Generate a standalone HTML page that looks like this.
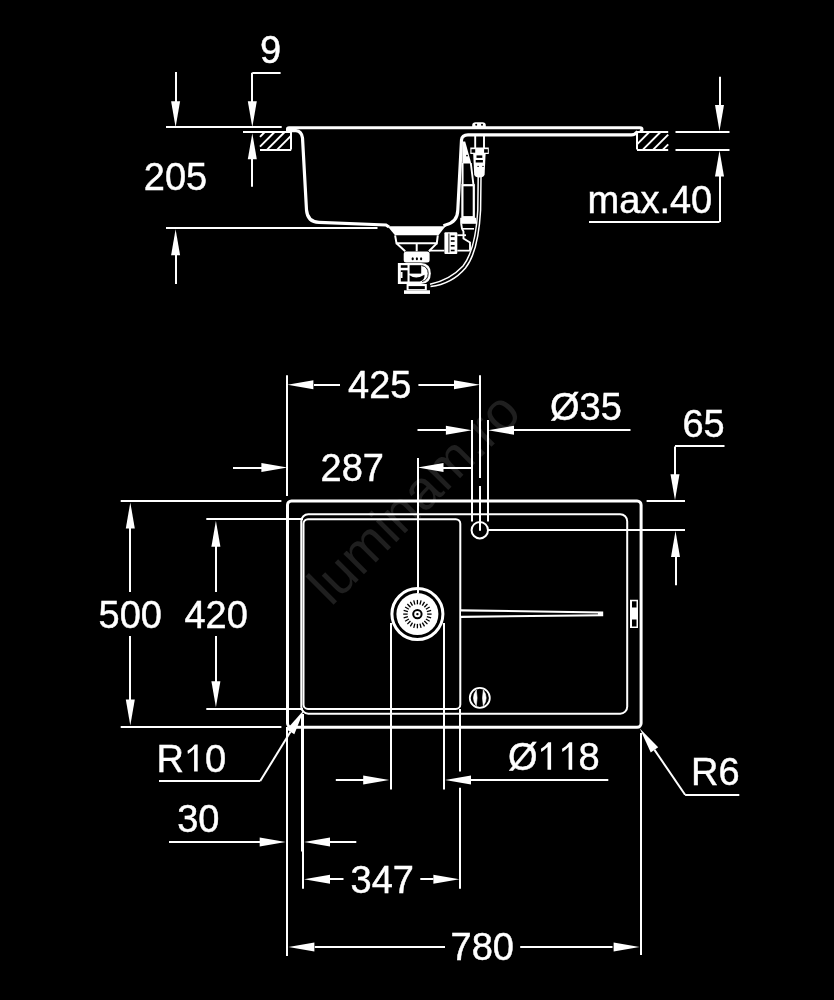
<!DOCTYPE html>
<html><head><meta charset="utf-8"><style>
html,body{margin:0;padding:0;background:#000;width:834px;height:1000px;overflow:hidden}
svg{display:block}
text{font-family:"Liberation Sans",sans-serif;fill:#fff;stroke:#fff;stroke-width:0.45px}
svg{filter:grayscale(1)}
</style></head><body>
<svg width="834" height="1000" viewBox="0 0 834 1000">
<rect width="834" height="1000" fill="#000"/>
<text x="0" y="0" font-size="55" style="fill:#1f1f1f;stroke:none" transform="translate(331,607.3) rotate(-45)">luminam.ro</text>
<line x1="166" y1="127" x2="281.7" y2="127" stroke="#fff" stroke-width="2"/>
<line x1="166" y1="228" x2="377.5" y2="228" stroke="#fff" stroke-width="2"/>
<line x1="176" y1="72" x2="176" y2="110" stroke="#fff" stroke-width="2"/>
<polygon points="175.6,127.3 171.1,101.3 180.1,101.3" fill="#fff"/>
<line x1="176" y1="245" x2="176" y2="284" stroke="#fff" stroke-width="2"/>
<polygon points="175.6,229.2 171.1,255.2 180.1,255.2" fill="#fff"/>
<text x="143.8" y="189.9" font-size="38" text-anchor="start">205</text>
<line x1="252.3" y1="73" x2="280.6" y2="73" stroke="#fff" stroke-width="2"/>
<line x1="252" y1="72.7" x2="252" y2="110" stroke="#fff" stroke-width="2"/>
<polygon points="252.3,127.3 247.8,101.3 256.8,101.3" fill="#fff"/>
<line x1="243" y1="132" x2="291.5" y2="132" stroke="#fff" stroke-width="2"/>
<line x1="252" y1="150" x2="252" y2="186.8" stroke="#fff" stroke-width="2"/>
<polygon points="252.3,133.3 247.8,159.3 256.8,159.3" fill="#fff"/>
<text x="260" y="62.9" font-size="38" text-anchor="start">9</text>
<line x1="260" y1="132" x2="291.2" y2="132" stroke="#fff" stroke-width="2"/>
<line x1="260" y1="150" x2="291.2" y2="150" stroke="#fff" stroke-width="2"/>
<line x1="291" y1="132" x2="291" y2="149.6" stroke="#fff" stroke-width="2"/>
<line x1="260" y1="136.8" x2="264.8" y2="132.0" stroke="#fff" stroke-width="1.9"/>
<line x1="260" y1="146.6" x2="274.6" y2="132.0" stroke="#fff" stroke-width="1.9"/>
<line x1="267.1" y1="149.6" x2="284.7" y2="132.0" stroke="#fff" stroke-width="1.9"/>
<line x1="277.2" y1="149.6" x2="291.2" y2="135.6" stroke="#fff" stroke-width="1.9"/>
<line x1="637" y1="132" x2="668.2" y2="132" stroke="#fff" stroke-width="2"/>
<line x1="637" y1="150" x2="668.2" y2="150" stroke="#fff" stroke-width="2"/>
<line x1="637" y1="132" x2="637" y2="149.6" stroke="#fff" stroke-width="2"/>
<line x1="637" y1="144.3" x2="649.3" y2="132.0" stroke="#fff" stroke-width="1.9"/>
<line x1="642.9" y1="149.6" x2="660.5" y2="132.0" stroke="#fff" stroke-width="1.9"/>
<line x1="653.2" y1="149.6" x2="668.2" y2="134.6" stroke="#fff" stroke-width="1.9"/>
<line x1="662.9" y1="149.6" x2="668.2" y2="144.3" stroke="#fff" stroke-width="1.9"/>
<line x1="675.5" y1="132" x2="729.5" y2="132" stroke="#fff" stroke-width="2"/>
<line x1="675.5" y1="150" x2="729.5" y2="150" stroke="#fff" stroke-width="2"/>
<line x1="720" y1="76.8" x2="720" y2="110" stroke="#fff" stroke-width="2"/>
<polygon points="719.5,131 715.0,105 724.0,105" fill="#fff"/>
<line x1="720" y1="160" x2="720" y2="222" stroke="#fff" stroke-width="2"/>
<polygon points="719.5,150.6 715.0,176.6 724.0,176.6" fill="#fff"/>
<line x1="589" y1="222" x2="719.5" y2="222" stroke="#fff" stroke-width="2"/>
<text x="587.6" y="212.9" font-size="38" text-anchor="start">max.40</text>
<path d="M287.5,131.5 L287.5,129 Q287.5,127.8 289,127.8 L640,127.8 Q642,127.8 642,129.5 Q642,131 640,131.5" fill="none" stroke="#fff" stroke-width="3" />
<path d="M288.5,130.6 L296,130.6 Q301.5,131 302.5,138 L306.5,210 Q307.5,222 319,222.3 L386,225 L389,227" fill="none" stroke="#fff" stroke-width="3.2" />
<path d="M443.5,226 L445.5,225 Q457.6,222 457.8,210 L461.5,140 Q462,134.8 468,134.8 L631.2,134.8 Q635,134.8 637.7,131.5" fill="none" stroke="#fff" stroke-width="3.2" />
<path d="M472.2,127 L472.2,125 Q472.5,122.3 475.5,122.3 L482.5,122.3 Q485.6,122.3 485.8,125 L485.8,127 Z" fill="#fff"/>
<circle cx="476.2" cy="124.8" r="1" fill="#000"/><circle cx="482" cy="124.8" r="1" fill="#000"/>
<path d="M475.2,136 L475.2,148 M484,136 L484,148" fill="none" stroke="#fff" stroke-width="1.9" />
<rect x="470.3" y="147.5" width="18.5" height="6.5" fill="#fff"/>
<rect x="471.5" y="149.2" width="3.7" height="3.5" fill="#000"/><rect x="484.1" y="149.2" width="3.7" height="3.5" fill="#000"/>
<path d="M473.2,154 L485.6,154 L484.6,174.5 Q484,177.4 479.4,177.4 Q474.8,177.4 474.2,174.5 Z" fill="#fff"/>
<rect x="476.5" y="155.4" width="5.8" height="2.5" fill="#000"/><rect x="475.7" y="160" width="7.2" height="2.5" fill="#000"/>
<circle cx="478.1" cy="166.4" r="0.7" fill="#000"/><circle cx="483" cy="166.4" r="0.7" fill="#000"/>
<polygon points="462.3,141.5 465.2,141.5 471.3,163.5 462.3,163.5" fill="#fff"/>
<circle cx="467" cy="155.6" r="0.9" fill="#000"/>
<path d="M462.6,163 L462.6,184.4 M470.8,163 L473.4,184.4" fill="none" stroke="#fff" stroke-width="1.9" />
<rect x="462.4" y="185.2" width="11.4" height="32" fill="none" stroke="#fff" stroke-width="2.2"/>
<rect x="460.2" y="217.8" width="15.8" height="6" fill="#fff"/>
<path d="M461.2,223.5 L462,228.8 L463.5,231.5 L463.5,238.5 L470,242.5 L470,250.5" fill="none" stroke="#fff" stroke-width="1.9" />
<path d="M462,228.8 L474,228.8" fill="none" stroke="#fff" stroke-width="1.6" />
<path d="M478.2,177 L477.8,210 Q475.5,250 463,266 Q450,280 430,284.2" fill="none" stroke="#fff" stroke-width="1.5" />
<path d="M481,177 L480.6,210 Q478.3,252 465.5,268 Q452,284 430.5,286.5" fill="none" stroke="#fff" stroke-width="1.5" />
<rect x="444.4" y="232.3" width="12.9" height="21.6" rx="1" fill="#fff"/>
<path d="M448.9,233.5 L448.9,252.5" fill="none" stroke="#000" stroke-width="0.9" />
<rect x="450.8" y="235.5" width="3.8" height="1.6" fill="#000"/>
<rect x="450.8" y="240.2" width="3.8" height="1.6" fill="#000"/>
<rect x="450.8" y="245" width="3.8" height="1.6" fill="#000"/>
<rect x="450.8" y="249.7" width="3.8" height="1.6" fill="#000"/>
<path d="M457.3,235.2 L466,235.2" fill="none" stroke="#fff" stroke-width="1.8" />
<path d="M429,250.6 L444.4,250.6 M457.3,250.6 L470,250.6" fill="none" stroke="#fff" stroke-width="1.8" />
<polygon points="387.5,226.3 445.5,226.3 438.5,235.3 395,235.3" fill="#fff"/>
<path d="M395.1,235.3 L396.5,243.2 L436.8,243.2 L437.8,235.3" fill="none" stroke="#fff" stroke-width="2" />
<path d="M396.5,243.2 L405.2,251.2 M436.8,243.4 L428.9,251.2 M416.7,243.2 L416.7,251.2" fill="none" stroke="#fff" stroke-width="2" />
<rect x="403.7" y="251.5" width="25.9" height="10.9" rx="2.5" fill="#fff"/>
<ellipse cx="412.7" cy="258.8" rx="1.1" ry="1.5" fill="#000"/>
<ellipse cx="416.9" cy="258.8" rx="1.1" ry="1.5" fill="#000"/>
<ellipse cx="421.1" cy="258.8" rx="1.1" ry="1.5" fill="#000"/>
<path d="M397.9,263 L421,263 Q430.8,263.5 430.8,273.4 Q430.8,283.6 421,284 L397.9,284 Z" fill="#fff"/>
<rect x="400.8" y="265.2" width="6.7" height="2.6" fill="#000"/>
<rect x="400.8" y="270.3" width="6.7" height="11.2" fill="#000"/>
<rect x="400.6" y="272" width="1.9" height="6" fill="#fff"/>
<rect x="409.6" y="265.2" width="11.6" height="8.4" fill="#000"/>
<path d="M409.6,275.2 Q416,280 424.5,274.8 Q425,279.8 420,281.6 L409.6,281.6 Z" fill="#000"/>
<path d="M421.5,265.5 Q428,266.5 428.2,273.4 Q428,280.5 422,281.5" fill="none" stroke="#000" stroke-width="0.9"/>
<rect x="406.6" y="284" width="20.2" height="6.3" fill="#fff"/>
<rect x="408.6" y="286.1" width="16.2" height="3" fill="#000"/>
<rect x="404" y="290.3" width="26" height="3.6" fill="#fff"/>
<rect x="287.5" y="501" width="353.6" height="226.3" rx="4" fill="none" stroke="#fff" stroke-width="3"/>
<rect x="301.3" y="514.2" width="325.9" height="199.5" rx="7" fill="none" stroke="#fff" stroke-width="2"/>
<rect x="303.5" y="519.2" width="156.8" height="189.7" rx="4.5" fill="none" stroke="#fff" stroke-width="2"/>
<circle cx="417.4" cy="614.1" r="25.5" fill="none" stroke="#fff" stroke-width="3"/>
<circle cx="417.4" cy="614.1" r="21" fill="#fff"/>
<line x1="427.2" y1="614.1" x2="431.6" y2="614.1" stroke="#000" stroke-width="1.3"/>
<line x1="426.87" y1="616.64" x2="431.12" y2="617.78" stroke="#000" stroke-width="1.3"/>
<line x1="425.89" y1="619.0" x2="429.7" y2="621.2" stroke="#000" stroke-width="1.3"/>
<line x1="424.33" y1="621.03" x2="427.44" y2="624.14" stroke="#000" stroke-width="1.3"/>
<line x1="422.3" y1="622.59" x2="424.5" y2="626.4" stroke="#000" stroke-width="1.3"/>
<line x1="419.94" y1="623.57" x2="421.08" y2="627.82" stroke="#000" stroke-width="1.3"/>
<line x1="417.4" y1="623.9" x2="417.4" y2="628.3" stroke="#000" stroke-width="1.3"/>
<line x1="414.86" y1="623.57" x2="413.72" y2="627.82" stroke="#000" stroke-width="1.3"/>
<line x1="412.5" y1="622.59" x2="410.3" y2="626.4" stroke="#000" stroke-width="1.3"/>
<line x1="410.47" y1="621.03" x2="407.36" y2="624.14" stroke="#000" stroke-width="1.3"/>
<line x1="408.91" y1="619.0" x2="405.1" y2="621.2" stroke="#000" stroke-width="1.3"/>
<line x1="407.93" y1="616.64" x2="403.68" y2="617.78" stroke="#000" stroke-width="1.3"/>
<line x1="407.6" y1="614.1" x2="403.2" y2="614.1" stroke="#000" stroke-width="1.3"/>
<line x1="407.93" y1="611.56" x2="403.68" y2="610.42" stroke="#000" stroke-width="1.3"/>
<line x1="408.91" y1="609.2" x2="405.1" y2="607.0" stroke="#000" stroke-width="1.3"/>
<line x1="410.47" y1="607.17" x2="407.36" y2="604.06" stroke="#000" stroke-width="1.3"/>
<line x1="412.5" y1="605.61" x2="410.3" y2="601.8" stroke="#000" stroke-width="1.3"/>
<line x1="414.86" y1="604.63" x2="413.72" y2="600.38" stroke="#000" stroke-width="1.3"/>
<line x1="417.4" y1="604.3" x2="417.4" y2="599.9" stroke="#000" stroke-width="1.3"/>
<line x1="419.94" y1="604.63" x2="421.08" y2="600.38" stroke="#000" stroke-width="1.3"/>
<line x1="422.3" y1="605.61" x2="424.5" y2="601.8" stroke="#000" stroke-width="1.3"/>
<line x1="424.33" y1="607.17" x2="427.44" y2="604.06" stroke="#000" stroke-width="1.3"/>
<line x1="425.89" y1="609.2" x2="429.7" y2="607.0" stroke="#000" stroke-width="1.3"/>
<line x1="426.87" y1="611.56" x2="431.12" y2="610.42" stroke="#000" stroke-width="1.3"/>
<circle cx="417.4" cy="614.1" r="4.2" fill="none" stroke="#000" stroke-width="2"/>
<circle cx="417.4" cy="614.1" r="1.2" fill="#000"/>
<polygon points="461,609.3 603.2,611.4 603.2,616.3 461,617.9" fill="#fff"/>
<polygon points="461,611.4 598,613.4 598,614.2 461,615.8" fill="#000"/>
<rect x="630" y="599.75" width="8" height="28.25" fill="#fff"/>
<rect x="632" y="601.3" width="4.5" height="6.2" fill="#000"/><rect x="632" y="619.5" width="4.5" height="7" fill="#000"/>
<circle cx="479.8" cy="530.2" r="8.2" fill="none" stroke="#fff" stroke-width="2"/>
<circle cx="479.8" cy="697.9" r="10" fill="none" stroke="#fff" stroke-width="1.8"/>
<path d="M476.3,690 Q470.6,697.9 476.3,705.8 Q477.9,697.9 476.3,690 Z M483.3,690 Q489,697.9 483.3,705.8 Q481.7,697.9 483.3,690 Z" fill="#fff" stroke="#fff" stroke-width="0.6"/>
<line x1="287" y1="375.2" x2="287" y2="496" stroke="#fff" stroke-width="2"/>
<line x1="480" y1="375.2" x2="480" y2="478" stroke="#fff" stroke-width="2"/>
<line x1="480" y1="486" x2="480" y2="530.7" stroke="#fff" stroke-width="2"/>
<line x1="314" y1="385" x2="340" y2="385" stroke="#fff" stroke-width="2"/>
<polygon points="287.4,384.8 313.4,380.3 313.4,389.3" fill="#fff"/>
<line x1="418.4" y1="385" x2="454" y2="385" stroke="#fff" stroke-width="2"/>
<polygon points="480,384.8 454,380.3 454,389.3" fill="#fff"/>
<text x="348" y="398.1" font-size="38" text-anchor="start">425</text>
<line x1="472" y1="420" x2="472" y2="521.6" stroke="#fff" stroke-width="2"/>
<line x1="488" y1="420" x2="488" y2="521.6" stroke="#fff" stroke-width="2"/>
<line x1="417.5" y1="430" x2="446" y2="430" stroke="#fff" stroke-width="2"/>
<polygon points="471.9,430.3 445.9,425.8 445.9,434.8" fill="#fff"/>
<line x1="514" y1="430" x2="630.5" y2="430" stroke="#fff" stroke-width="2"/>
<polygon points="488,430.3 514,425.8 514,434.8" fill="#fff"/>
<text x="550" y="419.5" font-size="38" text-anchor="start">Ø35</text>
<line x1="233" y1="468" x2="262" y2="468" stroke="#fff" stroke-width="2"/>
<polygon points="287.4,467.6 261.4,463.1 261.4,472.1" fill="#fff"/>
<line x1="418" y1="458" x2="418" y2="593" stroke="#fff" stroke-width="2"/>
<line x1="443" y1="468" x2="471.9" y2="468" stroke="#fff" stroke-width="2"/>
<polygon points="417.5,467.6 443.5,463.1 443.5,472.1" fill="#fff"/>
<text x="320.5" y="481.3" font-size="38" text-anchor="start">287</text>
<line x1="675" y1="446" x2="724.5" y2="446" stroke="#fff" stroke-width="2"/>
<line x1="675" y1="446.5" x2="675" y2="475" stroke="#fff" stroke-width="2"/>
<polygon points="675,500.3 670.5,474.3 679.5,474.3" fill="#fff"/>
<line x1="646.6" y1="501" x2="685" y2="501" stroke="#fff" stroke-width="2"/>
<line x1="488" y1="530" x2="685" y2="530" stroke="#fff" stroke-width="2"/>
<line x1="676" y1="557" x2="676" y2="585.2" stroke="#fff" stroke-width="2"/>
<polygon points="675.5,530.9 671.0,556.9 680.0,556.9" fill="#fff"/>
<text x="682.4" y="436.9" font-size="38" text-anchor="start">65</text>
<line x1="120.7" y1="501" x2="281.4" y2="501" stroke="#fff" stroke-width="2"/>
<line x1="120.7" y1="727" x2="281.4" y2="727" stroke="#fff" stroke-width="2"/>
<line x1="130" y1="527" x2="130" y2="592" stroke="#fff" stroke-width="2"/>
<polygon points="130.3,502.4 125.80000000000001,528.4 134.8,528.4" fill="#fff"/>
<line x1="130" y1="636" x2="130" y2="700" stroke="#fff" stroke-width="2"/>
<polygon points="130.3,725.6 125.80000000000001,699.6 134.8,699.6" fill="#fff"/>
<text x="98.5" y="628" font-size="38" text-anchor="start">500</text>
<line x1="206.3" y1="519" x2="303" y2="519" stroke="#fff" stroke-width="2"/>
<line x1="206.3" y1="709" x2="303" y2="709" stroke="#fff" stroke-width="2"/>
<line x1="216" y1="546" x2="216" y2="592" stroke="#fff" stroke-width="2"/>
<polygon points="215.9,520.8 211.4,546.8 220.4,546.8" fill="#fff"/>
<line x1="216" y1="636" x2="216" y2="682" stroke="#fff" stroke-width="2"/>
<polygon points="215.9,707.2 211.4,681.2 220.4,681.2" fill="#fff"/>
<text x="184.4" y="628" font-size="38" text-anchor="start">420</text>
<text x="156.4" y="771.8" font-size="38" text-anchor="start">R<tspan style="fill:none;stroke:none">1</tspan>0</text>
<path d="M197.7,744.4 L197.7,771.6 L194.1,771.6 L194.1,749.1 Q191.2,751.9 187.89999999999998,754.0 L187.5,750.8 Q192.2,748.4 194.79999999999998,744.4 Z" fill="#fff"/>
<line x1="159" y1="781" x2="260.2" y2="781" stroke="#fff" stroke-width="2"/>
<polygon points="304.1,709.7 286.65,729.49 294.32,734.21" fill="#fff"/>
<line x1="290.48" y1="731.85" x2="260.2" y2="781.1" stroke="#fff" stroke-width="2"/>
<line x1="287" y1="727" x2="287" y2="956" stroke="#fff" stroke-width="2"/>
<line x1="302" y1="714" x2="302" y2="851.6" stroke="#fff" stroke-width="2"/>
<line x1="169" y1="842" x2="260" y2="842" stroke="#fff" stroke-width="2"/>
<polygon points="285.7,842 259.7,837.5 259.7,846.5" fill="#fff"/>
<line x1="330" y1="842" x2="356.3" y2="842" stroke="#fff" stroke-width="2"/>
<polygon points="304,842 330,837.5 330,846.5" fill="#fff"/>
<text x="177.2" y="832.2" font-size="38" text-anchor="start">30</text>
<line x1="303" y1="714" x2="303" y2="888.8" stroke="#fff" stroke-width="2"/>
<line x1="460" y1="709" x2="460" y2="771.5" stroke="#fff" stroke-width="2"/>
<line x1="460" y1="787.7" x2="460" y2="888.8" stroke="#fff" stroke-width="2"/>
<line x1="330" y1="879" x2="343.5" y2="879" stroke="#fff" stroke-width="2"/>
<polygon points="304,879.2 330,874.7 330,883.7" fill="#fff"/>
<line x1="420.3" y1="879" x2="433.5" y2="879" stroke="#fff" stroke-width="2"/>
<polygon points="459.4,879.2 433.4,874.7 433.4,883.7" fill="#fff"/>
<text x="350.5" y="892.8" font-size="38" text-anchor="start">347</text>
<line x1="641" y1="733" x2="641" y2="955" stroke="#fff" stroke-width="2"/>
<line x1="314.8" y1="947" x2="445" y2="947" stroke="#fff" stroke-width="2"/>
<polygon points="288.4,947 314.4,942.5 314.4,951.5" fill="#fff"/>
<line x1="520.2" y1="947" x2="612.5" y2="947" stroke="#fff" stroke-width="2"/>
<polygon points="639.6,947 613.6,942.5 613.6,951.5" fill="#fff"/>
<text x="450.5" y="960" font-size="38" text-anchor="start">780</text>
<line x1="391" y1="623" x2="391" y2="789.5" stroke="#fff" stroke-width="2"/>
<line x1="444" y1="623" x2="444" y2="789.5" stroke="#fff" stroke-width="2"/>
<line x1="335.8" y1="780" x2="364" y2="780" stroke="#fff" stroke-width="2"/>
<polygon points="389.2,779.9 363.2,775.4 363.2,784.4" fill="#fff"/>
<line x1="471" y1="780" x2="608.3" y2="780" stroke="#fff" stroke-width="2"/>
<polygon points="445,779.9 471,775.4 471,784.4" fill="#fff"/>
<text x="508" y="770.4" font-size="38" text-anchor="start">Ø<tspan style="fill:none;stroke:none">11</tspan><tspan dx="1.5">8</tspan></text>
<path d="M551.1,742.3 L551.1,769.7 L547.5,769.7 L547.5,747.0 Q544.6,749.8 541.3000000000001,751.9 L540.9,748.6999999999999 Q545.6,746.3 548.2,742.3 Z" fill="#fff"/>
<path d="M572.2,742.3 L572.2,769.7 L568.6,769.7 L568.6,747.0 Q565.7,749.8 562.4000000000001,751.9 L562.0,748.6999999999999 Q566.7,746.3 569.3000000000001,742.3 Z" fill="#fff"/>
<text x="691" y="785" font-size="38" text-anchor="start">R6</text>
<line x1="685.1" y1="795" x2="739.3" y2="795" stroke="#fff" stroke-width="2"/>
<polygon points="639.8,728.4 650.75,752.41 658.18,747.33" fill="#fff"/>
<line x1="654.47" y1="749.87" x2="685.1" y2="794.7" stroke="#fff" stroke-width="2"/>
</svg></body></html>
